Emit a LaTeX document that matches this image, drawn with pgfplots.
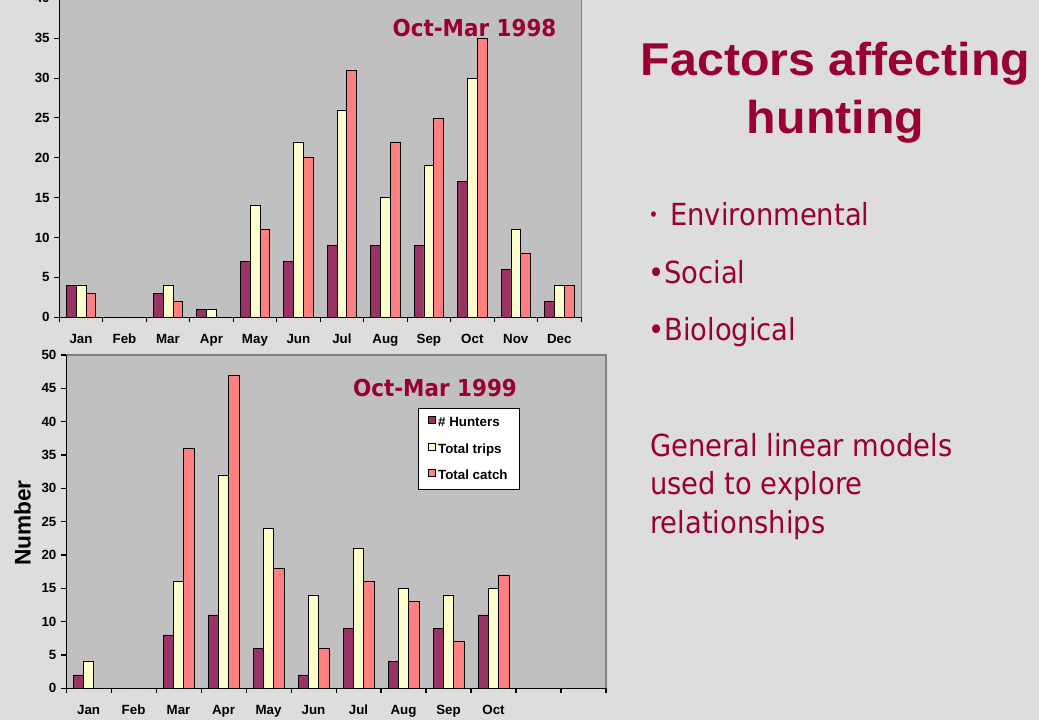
\documentclass[border=0pt]{standalone}
\usepackage{pgfplots}
\pgfplotsset{compat=1.18}
\usepackage{pgfplotstable}
\usepackage{fontspec}
\setmainfont{Liberation Sans}
\newfontfamily\bodyfont[FakeStretch=0.9]{DejaVu Sans}
\newfontfamily\charttitlefont[FakeStretch=0.92]{DejaVu Sans}
\newfontfamily\titlefont[FakeStretch=1.05]{Liberation Sans}

\definecolor{slidebg}{HTML}{DDDDDD}
\definecolor{plotgray}{HTML}{C0C0C0}
\definecolor{bordergray}{HTML}{808080}
\definecolor{hunters}{HTML}{993366}
\definecolor{trips}{HTML}{FFFFCC}
\definecolor{catch}{HTML}{FF8080}
\definecolor{txt}{HTML}{990033}

\newcommand{\ticks}{\bfseries\fontsize{10bp}{12bp}\selectfont}

% month index, # hunters, total trips, total catch
\pgfplotstableread{
m h t c
0 4 4 3
1 0 0 0
2 3 4 2
3 1 1 0
4 7 14 11
5 7 22 20
6 9 26 31
7 9 15 22
8 9 19 25
9 17 30 35
10 6 11 8
11 2 4 4
}\yearA

\pgfplotstableread{
m h t c
0 2 4 0
1 0 0 0
2 8 16 36
3 11 32 47
4 6 24 18
5 2 14 6
6 9 21 16
7 4 15 13
8 9 14 7
9 11 15 17
}\yearB

\pgfplotsset{
  sqlegend/.style={legend image code/.code={
    \draw[##1] (0bp,-0.6bp) rectangle (5.25bp,4.65bp);}},
  monthbars/.style={
    scale only axis,
    ybar=0pt,
    axis x line*=bottom, axis y line*=left,
    axis line style={black, line width=0.8bp},
    axis background/.style={fill=plotgray, draw=bordergray, line width=0.8bp},
    xmin=-0.5, xmax=11.5,
    xtick={0,...,11},
    minor xtick={-0.5,0.5,...,11.5},
    major x tick style={draw=none},
    minor x tick style={black, line width=0.8bp},
    y tick style={black, line width=0.8bp},
    tick align=outside,
    major tick length=3.75bp, minor tick length=3.75bp,
    ymin=0, ytick distance=5,
    ticklabel style={font=\ticks},
    xticklabel style={yshift=-5bp, text height=7.5bp, text depth=2bp},
    /pgf/number format/assume math mode=true,
    every axis plot/.append style={draw=black, line width=0.5bp, sqlegend},
  },
}

\begin{document}
\begin{tikzpicture}
\path[fill=slidebg] (0,0) rectangle (779.25bp,540bp);

% Oct-Mar 1998
\begin{axis}[monthbars,
  at={(44.475bp,302.025bp)}, anchor=south west,
  width=391.3bp, height=239.2bp,
  ymax=40, bar width=7.35bp,
  xticklabels={Jan,Feb,Mar,Apr,May,Jun,Jul,Aug,Sep,Oct,Nov,Dec},
]
\addplot[fill=hunters] table[x=m,y=h] {\yearA};
\addplot[fill=trips] table[x=m,y=t] {\yearA};
\addplot[fill=catch] table[x=m,y=c] {\yearA};
\end{axis}

% Oct-Mar 1999
\begin{axis}[monthbars,
  at={(49.575bp,23.775bp)}, anchor=south west,
  width=404.9bp, height=250bp,
  ymax=50, bar width=7.7bp,
  xticklabels={Jan,Feb,Mar,Apr,May,Jun,Jul,Aug,Sep,Oct,,},
  legend cell align=left,
  legend style={at={(0.6518,0.840)}, anchor=north west,
    draw=black, fill=white, line width=0.8bp,
    inner xsep=7bp, inner ysep=3.75bp, row sep=6.4bp,
    font=\ticks,
    nodes={inner sep=2bp, text height=7.5bp, text depth=2bp}},
]
\addplot[fill=hunters] table[x=m,y=h] {\yearB};
\addplot[fill=trips] table[x=m,y=t] {\yearB};
\addplot[fill=catch] table[x=m,y=c] {\yearB};
\legend{\# Hunters, Total trips, Total catch}
\end{axis}

\begin{scope}[x=0.75bp, y=0.75bp, text=txt]
\node[anchor=base, font=\charttitlefont\bfseries\fontsize{17.5bp}{20bp}\selectfont]
  at (474.5, 683.3) {Oct-Mar 1998};
\node[anchor=base, font=\charttitlefont\bfseries\fontsize{17.5bp}{20bp}\selectfont]
  at (435, 323.3) {Oct-Mar 1999};
\node[rotate=90, text=black, font=\bfseries\fontsize{17bp}{20bp}\selectfont]
  at (22.5, 197) {Number};

\node[anchor=base, font=\titlefont\bfseries\fontsize{34.5bp}{40bp}\selectfont]
  at (835.5, 644.3) {Factors affecting};
\node[anchor=base, font=\titlefont\bfseries\fontsize{34.5bp}{40bp}\selectfont]
  at (835.5, 586.1) {hunting};

\node[inner sep=0pt, font=\bodyfont\fontsize{14bp}{16bp}\selectfont]
  at (653.7, 503.2) {•};
\node[anchor=base west, inner sep=0pt, font=\bodyfont\fontsize{22.8bp}{27bp}\selectfont]
  at (670, 494.3) {Environmental};
\node[anchor=base west, inner sep=0pt, font=\bodyfont\fontsize{22.8bp}{27bp}\selectfont]
  at (648, 436.1) {•Social};
\node[anchor=base west, inner sep=0pt, font=\bodyfont\fontsize{22.8bp}{27bp}\selectfont]
  at (648, 379) {•Biological};

\node[anchor=base west, inner sep=0pt, font=\bodyfont\fontsize{22.8bp}{27bp}\selectfont]
  at (650, 263.6) {General linear models};
\node[anchor=base west, inner sep=0pt, font=\bodyfont\fontsize{22.8bp}{27bp}\selectfont]
  at (650, 225.4) {used to explore};
\node[anchor=base west, inner sep=0pt, font=\bodyfont\fontsize{22.8bp}{27bp}\selectfont]
  at (650, 186.8) {relationships};
\end{scope}

\pgfresetboundingbox
\path[use as bounding box] (0,0) rectangle (779.25bp,540bp);
\end{tikzpicture}
\end{document}
